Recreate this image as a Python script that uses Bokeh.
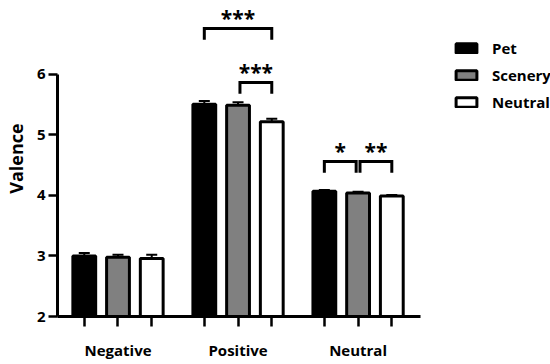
from bokeh.plotting import figure
from bokeh.models import ColumnDataSource, Whisker, TeeHead, FixedTicker, Range1d, Legend, LegendItem
from bokeh.embed import file_html
from bokeh.resources import INLINE
from bokeh.core.properties import value

# ---- data ----
groups = ["Negative", "Positive", "Neutral"]
conditions = ["Pet", "Scenery", "Neutral"]
pet = [3.00, 5.51, 4.07]
scenery = [2.98, 5.49, 4.04]
neutral = [2.96, 5.22, 3.99]
pet_err = [0.05, 0.05, 0.02]
scenery_err = [0.04, 0.05, 0.02]
neutral_err = [0.06, 0.05, 0.02]
y_ticks = [2, 3, 4, 5, 6]
y_label = "Valence"
# comparisons: (group index, bar a, bar b, bracket level, label)
comp_group = [1, 1, 2, 2]
comp_a = [0, 1, 0, 1]
comp_b = [2, 2, 1, 2]
comp_level = [6.76, 5.866, 4.563, 4.563]
comp_label = ["***", "***", "*", "**"]

series = [pet, scenery, neutral]
errors = [pet_err, scenery_err, neutral_err]
fills = ["black", "#808080", "white"]

FONT = "Open Sans"
DODGE = 0.281
BAR_W = 0.19

p = figure(width=550, height=364, output_backend="svg", toolbar_location=None,
           x_range=Range1d(-0.504, 3.603), y_range=Range1d(2, 7.223),
           min_border_left=53, min_border_right=0, min_border_top=0, min_border_bottom=48)
p.outline_line_color = None
p.grid.visible = False
p.background_fill_color = "white"
p.border_fill_color = "white"

def xpos(g, k):
    return g + (k - 1) * DODGE

items = []
for k, (vals, errs, col) in enumerate(zip(series, errors, fills)):
    xs = [xpos(g, k) for g in range(len(groups))]
    src = ColumnDataSource(dict(x=xs, top=vals, bottom=[2] * len(vals),
                                upper=[v + e for v, e in zip(vals, errs)]))
    r = p.vbar(x="x", top="top", bottom="bottom", width=BAR_W, source=src,
               fill_color=col, line_color="black", line_width=3)
    w = Whisker(base="x", lower="top", upper="upper", source=src, dimension="height",
                line_color="black", line_width=2,
                upper_head=TeeHead(size=11, line_color="black", line_width=2),
                lower_head=None)
    p.add_layout(w)
    items.append(LegendItem(label=conditions[k], renderers=[r]))

# significance brackets
LEG = 0.185
GAP = 0.016
bx, by, tx, ty = [], [], [], []
for g, a, b, lv in zip(comp_group, comp_a, comp_b, comp_level):
    x0 = xpos(g, a) + (GAP if a == 1 else 0)
    x1 = xpos(g, b) - (GAP if b == 1 else 0)
    bx.append([x0, x0, x1, x1])
    by.append([lv - LEG, lv, lv, lv - LEG])
    tx.append((x0 + x1) / 2)
    ty.append(lv + 0.17)
p.multi_line(xs=bx, ys=by, line_color="black", line_width=3, line_join="miter")
p.text(x=tx, y=ty, text=comp_label, text_align="center", text_baseline="middle",
       text_font=value(FONT), text_font_style="bold", text_font_size="21px", text_color="black")

# axes
xa = p.xaxis[0]
bar_x = [xpos(g, k) for g in range(3) for k in range(3)]
xa.ticker = FixedTicker(ticks=bar_x)
xa.major_label_overrides = {x: (groups[i // 3] if i % 3 == 1 else "") for i, x in enumerate(bar_x)}
xa.bounds = (-0.504, 2.52)
xa.axis_line_width = 3
xa.major_tick_line_width = 2.5
xa.major_tick_out = 10
xa.major_tick_in = 0
xa.minor_tick_line_color = None
xa.major_label_standoff = 13
xa.major_label_text_font = FONT
xa.major_label_text_font_style = "bold"
xa.major_label_text_font_size = "15px"
xa.major_label_text_color = "black"

ya = p.yaxis[0]
ya.ticker = FixedTicker(ticks=y_ticks)
ya.bounds = (2, 6)
ya.axis_line_width = 3
ya.major_tick_line_width = 2.5
ya.major_tick_out = 9
ya.major_tick_in = 0
ya.minor_tick_line_color = None
ya.major_label_standoff = 3
ya.major_label_text_font = FONT
ya.major_label_text_font_style = "bold"
ya.major_label_text_font_size = "15px"
ya.major_label_text_color = "black"
ya.axis_label = y_label
ya.axis_label_standoff = 6
ya.axis_label_text_font = FONT
ya.axis_label_text_font_style = "bold"
ya.axis_label_text_font_size = "18px"
ya.axis_label_text_color = "black"

legend = Legend(items=items, location=(396, 204), orientation="vertical",
                border_line_color=None, background_fill_alpha=0,
                padding=0, margin=0, spacing=7, glyph_width=26, glyph_height=12,
                label_height=20, label_standoff=13,
                label_text_font=FONT, label_text_font_style="bold",
                label_text_font_size="15px", label_text_color="black")
p.add_layout(legend)

open("out.html", "w").write(file_html(p, INLINE))
